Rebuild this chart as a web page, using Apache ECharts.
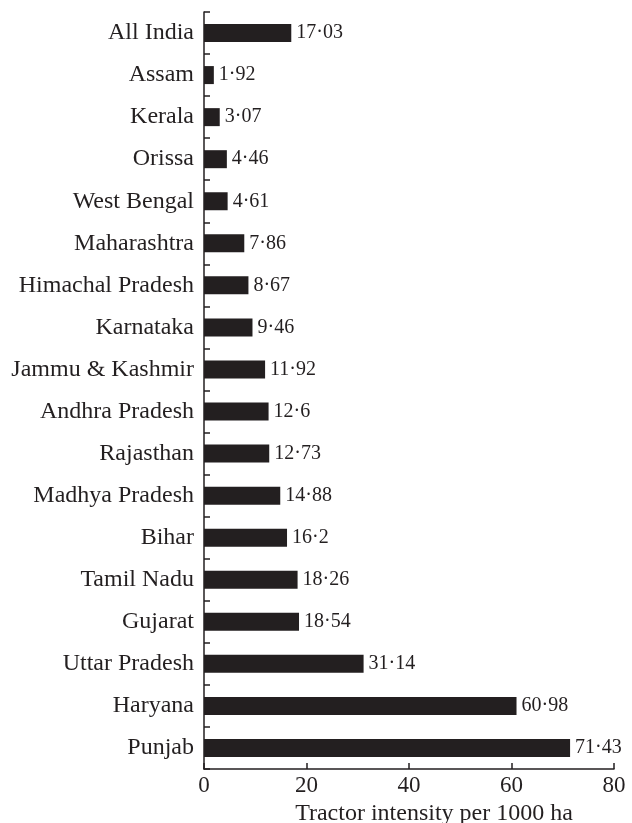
<!DOCTYPE html>
<html><head><meta charset="utf-8">
<script src="https://cdn.jsdelivr.net/npm/echarts@6/dist/echarts.min.js"></script>
<style>html,body{margin:0;padding:0;background:#fff}#c{width:632px;height:823px}</style>
</head><body><div id="c"></div>
<script>
const categories = ["All India","Assam","Kerala","Orissa","West Bengal","Maharashtra","Himachal Pradesh","Karnataka","Jammu & Kashmir","Andhra Pradesh","Rajasthan","Madhya Pradesh","Bihar","Tamil Nadu","Gujarat","Uttar Pradesh","Haryana","Punjab"];
const values = [17.03,1.92,3.07,4.46,4.61,7.86,8.67,9.46,11.92,12.6,12.73,14.88,16.2,18.26,18.54,31.14,60.98,71.43];
const xTicks = [0,20,40,60,80];
const xTitle = "Tractor intensity per 1000 ha";
const font = "Liberation Serif";
const chart = echarts.init(document.getElementById('c'), null, {renderer:'canvas'});
chart.setOption({
  animation:false,
  grid:{left:204,right:18,top:12,bottom:54,containLabel:false,outerBoundsMode:'none'},
  xAxis:{type:'value',min:xTicks[0],max:xTicks[xTicks.length-1],interval:20,
    name:xTitle,nameLocation:'middle',nameGap:31,
    nameTextStyle:{fontFamily:font,fontSize:24,color:'#231f20',padding:[0,0,0,50]},
    axisLine:{show:true,lineStyle:{color:'#231f20',width:1.5}},
    axisTick:{show:true,inside:true,length:6,lineStyle:{color:'#231f20',width:1.5}},
    axisLabel:{fontFamily:font,fontSize:23,color:'#231f20',margin:5},
    splitLine:{show:false}},
  yAxis:{type:'category',data:categories,inverse:true,
    axisLine:{show:true,lineStyle:{color:'#231f20',width:1.5}},
    axisTick:{show:true,inside:true,length:6,lineStyle:{color:'#231f20',width:1.5}},
    axisLabel:{fontFamily:font,fontSize:24,color:'#231f20',margin:10}},
  series:[{type:'bar',data:values,barWidth:18,
    itemStyle:{color:'#231f20'},
    label:{show:true,position:'right',distance:5,fontFamily:font,fontSize:20,color:'#231f20',
      formatter:p=>String(p.value).replace('.','·')}}]
});
</script></body></html>
